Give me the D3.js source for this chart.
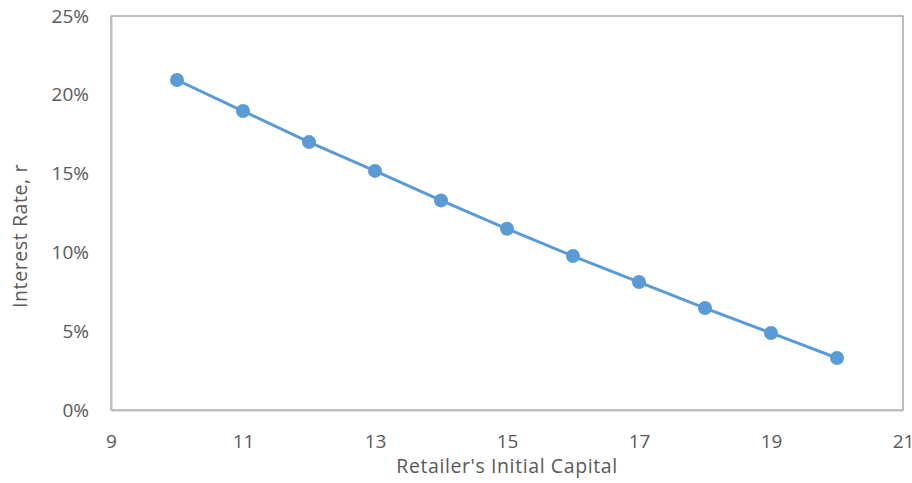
<!DOCTYPE html>
<html>
<head>
<meta charset="utf-8">
<script src="https://cdn.jsdelivr.net/npm/d3@7"></script>
<style>
  body { margin: 0; background: #fff; }
  text { font-family: "Open Sans", "Noto Sans", sans-serif; fill: #595959; }
</style>
</head>
<body>
<div id="chart"></div>
<script>
// retailer's initial capital vs interest rate
var capital = [10, 11, 12, 13, 14, 15, 16, 17, 18, 19, 20];
var rate = [0.2094, 0.1897, 0.1700, 0.1517, 0.1330, 0.1150, 0.0977, 0.0812, 0.0647, 0.0489, 0.0330];
var xTicks = [9, 11, 13, 15, 17, 19, 21];
var yTicks = [0, 0.05, 0.10, 0.15, 0.20, 0.25];

var width = 912, height = 483;
var mLeft = 111, mRight = 903, mTop = 16, mBottom = 410;

var svg = d3.select("#chart")
    .append("svg")
    .attr("width", width)
    .attr("height", height);

var x = d3.scaleLinear().domain([9, 21]).range([mLeft, mRight]);
var y = d3.scaleLinear().domain([0, 0.25]).range([mBottom, mTop]);

// plot area border
svg.append("rect")
    .attr("x", mLeft).attr("y", mTop)
    .attr("width", mRight - mLeft).attr("height", mBottom - mTop)
    .attr("fill", "none")
    .attr("stroke", "#7f7f7f")
    .attr("stroke-width", 1);

// axes
var xAxis = svg.append("g")
    .attr("transform", "translate(0," + mBottom + ")")
    .call(d3.axisBottom(x).tickValues(xTicks).tickSize(0).tickPadding(25).tickFormat(d3.format("d")));
xAxis.select(".domain").attr("stroke", "#bfbfbf").attr("stroke-width", 2);
xAxis.selectAll("text").attr("font-size", 19).style("fill", "#595959");

var yAxis = svg.append("g")
    .attr("transform", "translate(" + mLeft + ",0)")
    .call(d3.axisLeft(y).tickValues(yTicks).tickSize(0).tickPadding(22).tickFormat(d3.format(".0%")));
yAxis.select(".domain").attr("stroke", "#bfbfbf").attr("stroke-width", 2);
yAxis.selectAll("text").attr("font-size", 19).style("fill", "#595959");

// axis titles
svg.append("text")
    .attr("x", (mLeft + mRight) / 2)
    .attr("y", 473)
    .attr("text-anchor", "middle")
    .attr("font-size", 19.5)
    .attr("letter-spacing", 0.6)
    .text("Retailer's Initial Capital");

svg.append("text")
    .attr("transform", "translate(27,236) rotate(-90)")
    .attr("text-anchor", "middle")
    .attr("font-size", 19.5)
    .attr("letter-spacing", 0.6)
    .text("Interest Rate, r");

var line = d3.line()
    .x(function(d, i) { return x(capital[i]); })
    .y(function(d) { return y(d); });

svg.append("path")
    .datum(rate)
    .attr("fill", "none")
    .attr("stroke", "#5b9bd5")
    .attr("stroke-width", 3)
    .attr("stroke-linejoin", "round")
    .attr("d", line);

svg.selectAll(".dot")
    .data(rate)
  .enter().append("circle")
    .attr("class", "dot")
    .attr("cx", function(d, i) { return x(capital[i]); })
    .attr("cy", function(d) { return y(d); })
    .attr("r", 7)
    .attr("fill", "#5b9bd5");
</script>
</body>
</html>
